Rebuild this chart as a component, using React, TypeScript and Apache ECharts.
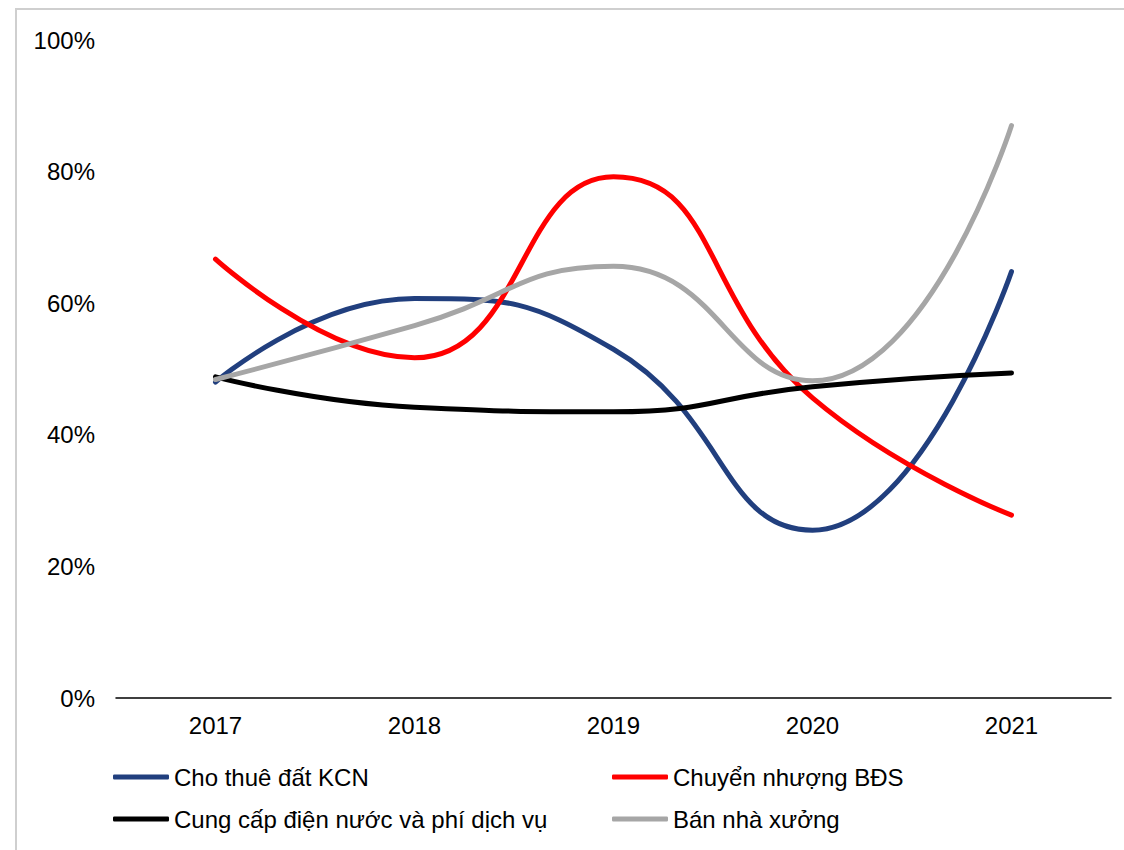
import React, { useEffect, useRef } from "react";
import * as echarts from "echarts";

const years = ["2017", "2018", "2019", "2020", "2021"];
const choThueDat = [0.48, 0.607, 0.53, 0.255, 0.648];
const chuyenNhuong = [0.667, 0.517, 0.792, 0.456, 0.278];
const cungCapDien = [0.488, 0.442, 0.435, 0.473, 0.494];
const banNhaXuong = [0.484, 0.566, 0.656, 0.482, 0.87];
const seriesNames = [
  "Cho thuê đất KCN",
  "Chuyển nhượng BĐS",
  "Cung cấp điện nước và phí dịch vụ",
  "Bán nhà xưởng",
];
const colors = ["#213F7E", "#FF0000", "#000000", "#A6A6A6"];

export default function App() {
  const ref = useRef<HTMLDivElement>(null);
  useEffect(() => {
    if (!ref.current) return;
    const chart = echarts.init(ref.current, null, { renderer: "svg" });
    const font = "'Liberation Sans', Arial, sans-serif";
    const data = [choThueDat, chuyenNhuong, cungCapDien, banNhaXuong];
    const legendCommon = {
      orient: "vertical" as const,
      icon: "roundRect",
      itemWidth: 56,
      itemHeight: 5,
      itemGap: 18,
      textStyle: { fontFamily: font, fontSize: 24, color: "#000", lineHeight: 24 },
      top: 765,
      padding: 0,
    };
    chart.setOption({
      animation: false,
      backgroundColor: "#fff",
      graphic: [
        {
          type: "rect",
          shape: { x: 16, y: 9, width: 1300, height: 1000 },
          style: { fill: "none", stroke: "#CFCFCF", lineWidth: 2 },
          silent: true,
        },
      ],
      grid: { left: 116, right: 13, top: 40, bottom: 152, containLabel: false },
      legend: [
        { ...legendCommon, left: 113, data: [seriesNames[0], seriesNames[2]] },
        { ...legendCommon, left: 612, data: [seriesNames[1], seriesNames[3]] },
      ],
      xAxis: {
        type: "category",
        data: years,
        boundaryGap: true,
        axisLine: { lineStyle: { color: "#000", width: 1.5 } },
        axisTick: { show: false },
        axisLabel: { fontFamily: font, fontSize: 24, color: "#000", margin: 15 },
      },
      yAxis: {
        type: "value",
        min: 0,
        max: 1,
        interval: 0.2,
        axisLine: { show: false },
        axisTick: { show: false },
        splitLine: { show: false },
        axisLabel: {
          fontFamily: font,
          fontSize: 24,
          color: "#000",
          margin: 21,
          formatter: (v: number) => Math.round(v * 100) + "%",
        },
      },
      series: data.map((d, i) => ({
        name: seriesNames[i],
        type: "line",
        data: d,
        smooth: 0.5,
        showSymbol: false,
        symbol: "none",
        itemStyle: { color: colors[i] },
        lineStyle: { color: colors[i], width: 5, cap: "round" },
      })),
    });
    return () => chart.dispose();
  }, []);
  return (
    <div
      ref={ref}
      style={{ position: "fixed", left: 0, top: 0, width: 1124, height: 850 }}
    />
  );
}
